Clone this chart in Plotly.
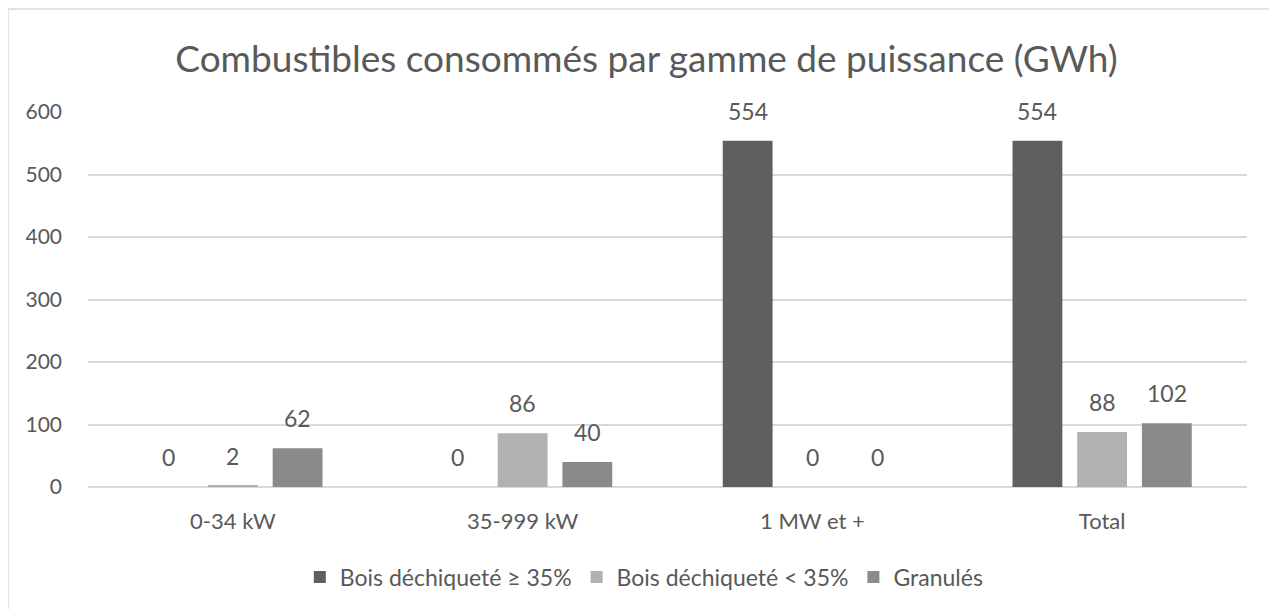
import plotly.graph_objects as go

categories = ["0-34 kW", "35-999 kW", "1 MW et +", "Total"]
series_names = ["Bois déchiqueté ≥ 35%", "Bois déchiqueté < 35%", "Granulés"]
bois_humide = [0, 0, 554, 554]
bois_sec = [2, 86, 0, 88]
granules = [62, 40, 0, 102]
y_ticks = [0, 100, 200, 300, 400, 500, 600]

series_values = [bois_humide, bois_sec, granules]
colors = ["#5f5f5f", "#b1b1b1", "#8a8a8a"]

W, H = 1277, 609
ml, mr, mt, mb = 80, 38, 104, 130
bargap = 0.33
plot_w = W - ml - mr
plot_h = H - mt - mb
slot = plot_w / len(categories) * (1 - bargap) / len(series_names)

font = "Lato, 'Open Sans', sans-serif"
txt_color = "#595959"

fig = go.Figure()
for name, vals, col in zip(series_names, series_values, colors):
    fig.add_trace(go.Bar(x=categories, y=vals, name=name, marker_color=col,
                         marker_line_width=0))

annotations = []
for i, vals in enumerate(series_values):
    for c, v in zip(categories, vals):
        annotations.append(dict(x=c, y=v, xref="x", yref="y", text=str(v),
                                showarrow=False, yanchor="bottom",
                                xshift=(i - 1) * slot, yshift=14,
                                font=dict(size=23, color=txt_color, family=font)))

fig.update_layout(
    width=W, height=H,
    margin=dict(l=ml, r=mr, t=mt, b=mb),
    paper_bgcolor="white", plot_bgcolor="white",
    barmode="group", bargap=bargap, bargroupgap=0.23,
    title=dict(text="Combustibles consommés par gamme de puissance (GWh)",
               x=0.5, xanchor="center", y=1 - 51 / H, yanchor="middle",
               font=dict(size=37, color=txt_color, family=font)),
    font=dict(family=font, color=txt_color, size=21),
    xaxis=dict(showgrid=False, showline=False, ticks="", ticklabelstandoff=19,
               tickfont=dict(size=22, color=txt_color)),
    yaxis=dict(range=[0, 600], tickvals=y_ticks, showgrid=True,
               gridcolor="#d9d9d9", gridwidth=1.5, zeroline=True,
               zerolinecolor="#d9d9d9", zerolinewidth=1.5,
               tickfont=dict(size=21, color=txt_color), ticks="", ticklabelstandoff=25),
    legend=dict(orientation="h", x=0.48, xanchor="center", y=-0.24, yanchor="middle",
                font=dict(size=23, color=txt_color), traceorder="normal", itemwidth=30),
    annotations=annotations,
    shapes=[dict(type="rect", xref="paper", yref="paper",
                 x0=(0 - ml) / plot_w, x1=(1268 - ml) / plot_w,
                 y0=-0.36, y1=(H - mb - 1) / plot_h,
                 line=dict(color="#d9d9d9", width=1.5), fillcolor="rgba(0,0,0,0)",
                 layer="below")],
)

fig.write_html("out.html")
